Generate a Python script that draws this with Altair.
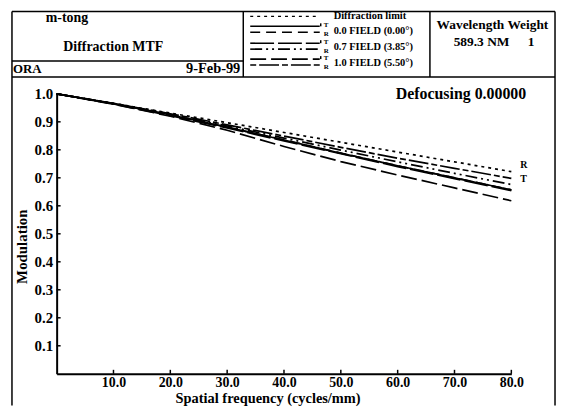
import altair as alt
import pandas as pd

# ---------------- data ----------------
freq = [0, 10, 20, 30, 40, 50, 60, 70, 80]
diffraction_limit = [1.0, 0.966, 0.931, 0.897, 0.862, 0.827, 0.792, 0.757, 0.722]
field00_T = [1.0, 0.965, 0.925, 0.881, 0.835, 0.788, 0.743, 0.700, 0.657]
field00_R = [1.0, 0.965, 0.925, 0.881, 0.835, 0.788, 0.743, 0.700, 0.657]
field07_T = [1.0, 0.964, 0.922, 0.878, 0.832, 0.786, 0.740, 0.697, 0.654]
field07_R = [1.0, 0.965, 0.926, 0.885, 0.842, 0.799, 0.757, 0.716, 0.676]
field10_T = [1.0, 0.963, 0.920, 0.870, 0.812, 0.758, 0.710, 0.664, 0.618]
field10_R = [1.0, 0.966, 0.929, 0.889, 0.849, 0.809, 0.770, 0.734, 0.698]

series_names = ["Diffraction limit", "0.0 T", "0.0 R", "0.7 T", "0.7 R", "1.0 T", "1.0 R"]
series_values = [diffraction_limit, field00_T, field00_R, field07_T, field07_R, field10_T, field10_R]

x_ticks = [10, 20, 30, 40, 50, 60, 70, 80]
y_ticks = [0.1, 0.2, 0.3, 0.4, 0.5, 0.6, 0.7, 0.8, 0.9, 1.0]

legend_labels = ["Diffraction limit", "0.0 FIELD (0.00°)", "0.7 FIELD (3.85°)", "1.0 FIELD (5.50°)"]

rows = []
for name, vals in zip(series_names, series_values):
    for f, m in zip(freq, vals):
        rows.append({"series": name, "freq": f, "mod": m})
df = pd.DataFrame(rows)
xt_df = pd.DataFrame({"freq": x_ticks})
yt_df = pd.DataFrame({"mod": y_ticks})

# ---------------- styling / layout ----------------
FONT = "Liberation Serif"
W, H = 458, 282
X0, Y0 = 57, 93  # page position of plot origin
dashes = [[3, 4], [1, 0], [10, 6], [24, 4], [12, 4, 2, 4, 2, 4], [16, 5], [6, 3, 20, 3]]

def px(x):
    return x - X0

def py(y):
    return y - Y0

one = pd.DataFrame({"k": [0]})

xscale = alt.Scale(domain=[0, 80], nice=False, zero=False)
yscale = alt.Scale(domain=[0, 1], nice=False, zero=False)

axis_common = dict(title=None, ticks=False, grid=False, domainColor="black", domainWidth=2,
                   labelFont=FONT, labelFontWeight="bold", labelColor="black",
                   labelFlush=False, labelOverlap=False, format=".1f")
x_axis = alt.Axis(values=x_ticks, labelPadding=2, labelFontSize=14, **axis_common)
y_axis = alt.Axis(values=y_ticks, labelPadding=4, labelFontSize=15, **axis_common)

lines = alt.Chart(df).mark_line(color="black", strokeWidth=1.7).encode(
    x=alt.X("freq:Q", scale=xscale, axis=x_axis),
    y=alt.Y("mod:Q", scale=yscale, axis=y_axis),
    strokeDash=alt.StrokeDash("series:N", scale=alt.Scale(domain=series_names, range=dashes), legend=None),
)

xt = alt.Chart(xt_df).mark_rule(color="black", strokeWidth=1.5).encode(
    x=alt.X("freq:Q", scale=xscale, axis=x_axis), y=alt.value(H), y2=alt.value(H - 4))
yt = alt.Chart(yt_df).mark_rule(color="black", strokeWidth=1.5).encode(
    y=alt.Y("mod:Q", scale=yscale, axis=y_axis), x=alt.value(0), x2=alt.value(4))

layers = [lines, xt, yt]

def txt(s, x, y, size, align="left", angle=0, baseline="middle"):
    kw = dict(text=s, font=FONT, fontSize=size, fontWeight="bold", color="black",
              align=align, baseline=baseline)
    if angle:
        kw["angle"] = angle
    return alt.Chart(one).mark_text(**kw).encode(x=alt.value(px(x)), y=alt.value(py(y)))

def hline(x1, x2, y, w=1.5, dash=None):
    kw = dict(color="black", strokeWidth=w)
    if dash:
        kw["strokeDash"] = dash
    return alt.Chart(one).mark_rule(**kw).encode(
        x=alt.value(px(x1)), x2=alt.value(px(x2)), y=alt.value(py(y)))

def vline(x, y1, y2, w=1.5):
    return alt.Chart(one).mark_rule(color="black", strokeWidth=w).encode(
        x=alt.value(px(x)), y=alt.value(py(y1)), y2=alt.value(py(y2)))

# frame
layers += [
    hline(12, 559, 10), vline(12, 10, 407), vline(559, 10, 407),
    hline(12, 245, 60), hline(12, 559, 76), vline(245, 10, 76), vline(433, 10, 76),
]

# header texts
layers += [
    txt("m-tong", 46, 17, 14),
    txt("Diffraction MTF", 114, 46, 14, align="center"),
    txt("ORA", 13, 68, 13),
    txt("9-Feb-99", 242, 68, 14.5, align="right"),
    txt("Wavelength Weight", 496, 24, 13.5, align="center"),
    txt("589.3 NM", 485, 41, 13.5, align="center"),
    txt("1", 535, 41, 13.5, align="center"),
    txt("Defocusing 0.00000", 530, 93, 16, align="right"),
    txt("Modulation", 22, 247, 15, align="center", angle=270),
    txt("Spatial frequency (cycles/mm)", 270, 404.5, 14.5, align="center", baseline="alphabetic"),
    txt("R", 524, 165, 10),
    txt("T", 524, 179, 10),
]

# legend
legend_rows = [15, 30, 46, 62]
for lab, y in zip(legend_labels, legend_rows):
    layers.append(txt(lab, 336, y, 10.5))
layers.append(hline(252, 322, 15, w=1.3, dash=dashes[0]))
pair_y = [(25, 31), (42, 48), (58, 64)]
for i, (yT, yR) in enumerate(pair_y):
    layers.append(hline(252, 322, yT, w=1.6, dash=dashes[1 + 2 * i]))
    layers.append(hline(252, 322, yR, w=1.6, dash=dashes[2 + 2 * i]))
    layers.append(vline(323, yT - 3, yT))
    layers.append(txt("T", 326, yT - 1, 7))
    layers.append(txt("R", 326, yR + 1.5, 7))

chart = alt.layer(*layers).properties(
    width=W, height=H,
    autosize=alt.AutoSizeParams(type="none"),
    padding={"left": 49, "top": 85, "right": 46, "bottom": 32},
    background="white",
).configure_view(strokeWidth=0)

chart.save("out.html", embed_options={"renderer": "svg", "actions": False})
